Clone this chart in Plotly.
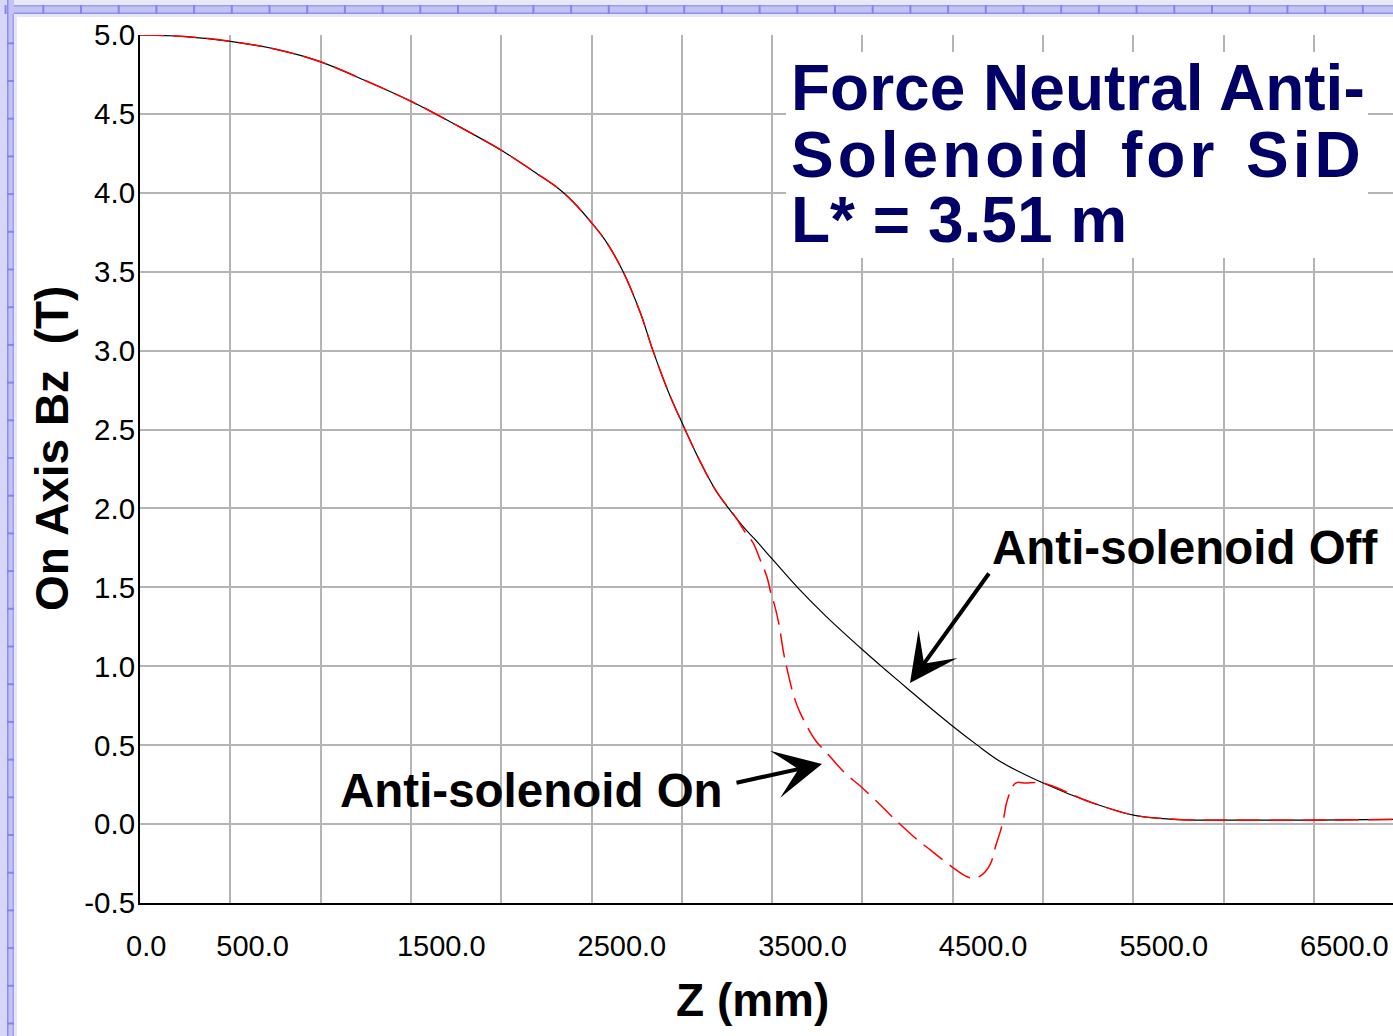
import plotly.graph_objects as go

# ---------------- data ----------------
z_off = [0, 250, 500, 750, 1000, 1250, 1500, 1750, 2000, 2200, 2325, 2400, 2500, 2575,
         2675, 2770, 2840, 2925, 3010, 3100, 3190, 3300, 3350, 3400, 3500, 3640, 3800,
         4005, 4125, 4250, 4375, 4505, 4630, 4765, 5000, 5260, 5500, 5700, 5800, 6000,
         6500, 6940]
b_off = [5.00, 4.99, 4.96, 4.91, 4.83, 4.71, 4.58, 4.43, 4.27, 4.12, 4.02, 3.94, 3.81, 3.70,
         3.50, 3.24, 3.00, 2.74, 2.52, 2.30, 2.11, 1.94, 1.87, 1.81, 1.68, 1.50, 1.315,
         1.10, 0.98, 0.858, 0.737, 0.615, 0.505, 0.395, 0.26, 0.14, 0.057, 0.032, 0.026, 0.025,
         0.025, 0.030]

z_on = [0, 250, 500, 750, 1000, 1250, 1500, 1750, 2000, 2200, 2325, 2400, 2500, 2575,
        2675, 2770, 2840, 2925, 3010, 3100, 3190, 3300, 3350, 3395, 3435, 3470, 3498,
        3510, 3537, 3564, 3582, 3620, 3657, 3740, 3795, 3906, 3989, 4109, 4174, 4294,
        4377, 4506, 4580, 4617, 4663, 4709, 4737, 4765, 4783, 4801, 4848, 4903, 5000,
        5260, 5500, 5700, 5800, 6000, 6500, 6940]
b_on = [5.00, 4.99, 4.96, 4.91, 4.83, 4.71, 4.58, 4.43, 4.27, 4.12, 4.02, 3.94, 3.81, 3.70,
        3.50, 3.24, 3.00, 2.74, 2.52, 2.30, 2.11, 1.94, 1.85, 1.78, 1.67, 1.57, 1.44,
        1.40, 1.27, 1.08, 0.985, 0.81, 0.70, 0.53, 0.46, 0.32, 0.24, 0.11, 0.036, -0.09,
        -0.165, -0.28, -0.334, -0.344, -0.32, -0.25, -0.14, -0.04, 0.046, 0.15, 0.26, 0.26, 0.26,
        0.14, 0.057, 0.032, 0.026, 0.025, 0.025, 0.030]

x_tickvals = [0, 500, 1000, 1500, 2000, 2500, 3000, 3500, 4000, 4500, 5000, 5500, 6000, 6500]
x_ticktext = ["0.0", "500.0", "", "1500.0", "", "2500.0", "", "3500.0", "", "4500.0", "",
              "5500.0", "", "6500.0"]
y_tickvals = [-0.5, 0.0, 0.5, 1.0, 1.5, 2.0, 2.5, 3.0, 3.5, 4.0, 4.5, 5.0]
y_ticktext = ["-0.5", "0.0", "0.5", "1.0", "1.5", "2.0", "2.5", "3.0", "3.5", "4.0", "4.5", "5.0"]

title_lines = ["Force Neutral Anti-", "Solenoid for SiD", "L* = 3.51 m"]
label_off = "Anti-solenoid Off"
label_on = "Anti-solenoid On"
x_title = "Z (mm)"
y_title = "On Axis Bz\u00a0\u00a0(T)"

# ---------------- layout geometry ----------------
W, H = 1393, 1036
ML, MR, MT, MB = 140, 0, 35, 133
PW, PH = W - ML - MR, H - MT - MB
FONT = "Liberation Sans, Arial, sans-serif"


def px_x(px):
    return (px - ML) / PW


def px_y(py):
    return (H - MB - py) / PH


fig = go.Figure()
fig.add_trace(go.Scatter(x=z_off, y=b_off, mode="lines", name=label_off,
                         line=dict(color="black", width=1.2), line_shape="spline"))
fig.add_trace(go.Scatter(x=z_on, y=b_on, mode="lines", name=label_on,
                         line=dict(color="#ff0000", width=1.5, dash="24px,9px"),
                         line_shape="spline"))

shapes = []
# title white box
shapes.append(dict(type="rect", xref="paper", yref="paper", layer="above",
                   x0=px_x(786), x1=px_x(1368), y0=px_y(258), y1=px_y(52),
                   fillcolor="white", line=dict(width=0)))


# ruler frame (top and left)
def rect(x0, y0, x1, y1, color):
    return dict(type="rect", xref="paper", yref="paper", layer="above",
                x0=px_x(x0), x1=px_x(x1), y0=px_y(y1), y1=px_y(y0),
                fillcolor=color, line=dict(width=0))


shapes.append(rect(0, 0, W, 5, "#e8e8fb"))
shapes.append(rect(0, 5, W, 14, "#c2c2f3"))
shapes.append(rect(0, 5, W, 6.5, "#9c9cf0"))
shapes.append(rect(0, 12.5, W, 14, "#9090ee"))
shapes.append(rect(14, 14, W, 17, "#e6e6fa"))
shapes.append(rect(0, 0, 7, H, "#d6d6f8"))
shapes.append(rect(7, 0, 14, H, "#c2c2f3"))
shapes.append(rect(7, 0, 8.5, H, "#8e8eef"))
shapes.append(rect(12.5, 14, 14, H, "#a0a0f1"))
shapes.append(rect(14, 17, 17, H, "#e6e6fa"))
t = 5.6
while t < W:
    shapes.append(rect(t - 1, 5, t + 1, 14, "#8484ed"))
    t += 37.7
t = 5.6 + 37.7
while t < H:
    shapes.append(rect(7, t - 1, 14, t + 1, "#8484ed"))
    t += 37.7

annotations = []
title_y = [88, 155, 220]
for i, line in enumerate(title_lines):
    txt = line
    if i == 1:
        txt = '<span style="letter-spacing:4px;word-spacing:6px">' + line + '</span>'
    annotations.append(dict(text=txt, xref="paper", yref="paper", x=px_x(789), y=px_y(title_y[i]),
                            xanchor="left", yanchor="middle", showarrow=False,
                            font=dict(family=FONT, size=64, color="#000066", weight="bold")))

annotations.append(dict(text=label_off, xref="paper", yref="paper", x=px_x(990), y=px_y(547),
                        xanchor="left", yanchor="middle", showarrow=False,
                        font=dict(family=FONT, size=47.5, color="black", weight="bold")))
annotations.append(dict(text=label_on, xref="paper", yref="paper", x=px_x(338), y=px_y(790),
                        xanchor="left", yanchor="middle", showarrow=False,
                        font=dict(family=FONT, size=47.5, color="black", weight="bold")))
# arrows
annotations.append(dict(text="", xref="paper", yref="paper", x=px_x(910), y=px_y(683),
                        ax=80, ay=-111, showarrow=True, arrowhead=3, arrowsize=2,
                        arrowwidth=4, arrowcolor="black"))
annotations.append(dict(text="", xref="paper", yref="paper", x=px_x(822), y=px_y(764),
                        ax=-87, ay=19, showarrow=True, arrowhead=3, arrowsize=2,
                        arrowwidth=4, arrowcolor="black"))
# axis titles
annotations.append(dict(text=x_title, xref="paper", yref="paper", x=px_x(752), y=px_y(1000),
                        xanchor="center", yanchor="middle", showarrow=False,
                        font=dict(family=FONT, size=46, color="black", weight="bold")))
annotations.append(dict(text=y_title, xref="paper", yref="paper", x=px_x(52), y=px_y(449),
                        xanchor="center", yanchor="middle", showarrow=False, textangle=-90,
                        font=dict(family=FONT, size=46, color="black", weight="bold")))

fig.update_layout(
    width=W, height=H,
    margin=dict(l=ML, r=MR, t=MT, b=MB, pad=0),
    paper_bgcolor="white", plot_bgcolor="white",
    showlegend=False,
    shapes=shapes, annotations=annotations,
    xaxis=dict(range=[0, PW / 0.18062], tickvals=x_tickvals, ticktext=x_ticktext,
               showgrid=True, gridcolor="#b4b4b4", gridwidth=1.5, zeroline=False,
               showline=True, linecolor="black", linewidth=2, ticks="",
               ticklabelposition="outside right", ticklabelshift=-15, ticklabelstandoff=16,
               tickfont=dict(family=FONT, size=29, color="black")),
    yaxis=dict(range=[-0.5, 5.0], tickvals=y_tickvals, ticktext=y_ticktext,
               showgrid=True, gridcolor="#b4b4b4", gridwidth=1.5, zeroline=False,
               showline=True, linecolor="black", linewidth=2, ticks="",
               ticklabelstandoff=-3,
               tickfont=dict(family=FONT, size=29.5, color="black")),
)

fig.write_html("out.html")
